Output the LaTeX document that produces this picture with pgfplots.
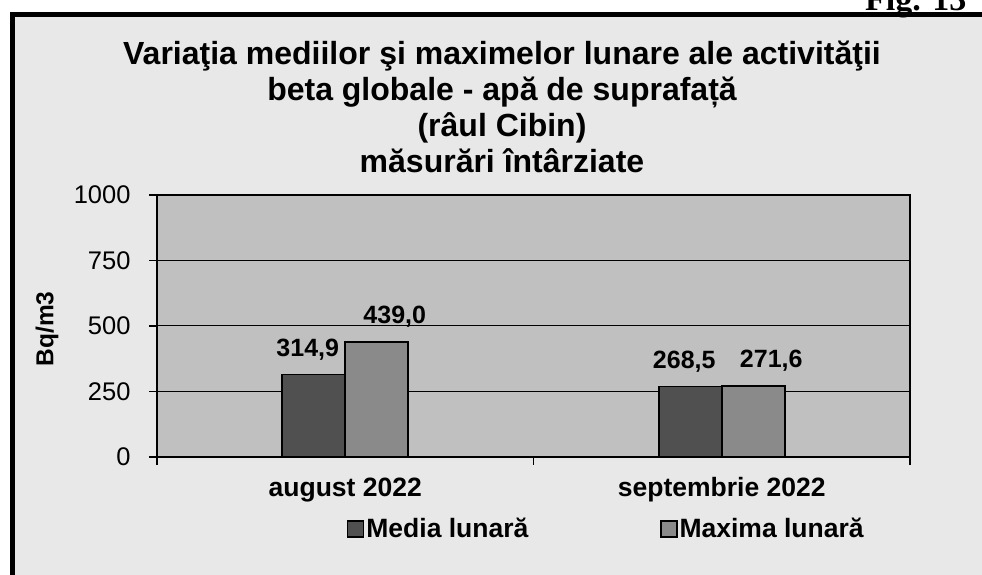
\documentclass[border=0pt]{standalone}
\usepackage{pgfplots}
\pgfplotsset{compat=1.18}
\usepackage{fontspec}
\setmainfont{Liberation Sans}
\newfontfamily\seriffont{Liberation Serif}
\definecolor{bggray}{RGB}{232,232,232}
\definecolor{plotgray}{RGB}{192,192,192}
\definecolor{darkbar}{RGB}{80,80,80}
\definecolor{lightbar}{RGB}{138,138,138}
\begin{document}
\begin{tikzpicture}[x=1bp,y=1bp]
\fill[white] (0,0) rectangle (982,575);
\fill[bggray] (12,0) rectangle (982,560);
\draw[line width=4.5bp] (12.5,0) -- (12.5,560.5) -- (982,560.5);
\node[anchor=base west, font=\seriffont\bfseries\fontsize{34bp}{40bp}\selectfont, inner sep=0pt] at (865,564) {Fig. 13};
\begin{scope}[every node/.style={anchor=base, inner sep=0pt, font=\bfseries\fontsize{32bp}{38bp}\selectfont}]
\node at (502,510) {Variaţia mediilor şi maximelor lunare ale activităţii};
\node at (502,474) {beta globale - apă de suprafață};
\node at (502,438) {(râul Cibin)};
\node at (502,402) {măsurări întârziate};
\end{scope}
\begin{axis}[
  at={(157bp,118bp)}, anchor=south west,
  width=753bp, height=262bp, scale only axis,
  xmin=-0.5, xmax=1.5, ymin=0, ymax=1000,
  axis background/.style={fill=plotgray},
  axis line style={black, line width=1.2bp},
  ybar=0pt, bar width=63bp,
  ytick={0,250,500,750,1000},
  ymajorgrids, grid style={black, line width=1bp},
  tick align=outside, major tick length=8bp,
  xtick pos=bottom, ytick pos=left,
  tick style={black, line width=1.2bp},
  /pgf/number format/assume math mode=true,
  /pgf/number format/1000 sep={},
  yticklabel style={font=\fontsize{25.5bp}{30bp}\selectfont, xshift=-15bp},
  xtick={-0.5,0.5,1.5}, xticklabels={},
  extra x ticks={0,1},
  extra x tick labels={august 2022, septembrie 2022},
  extra x tick style={major tick length=0pt, grid=none,
     xticklabel style={font=\bfseries\fontsize{26.5bp}{30bp}\selectfont, anchor=base, yshift=-40bp}},
  ylabel={Bq/m3},
  ylabel style={font=\bfseries\fontsize{24.5bp}{30bp}\selectfont, at={(axis description cs:-0.146,0.489)}, anchor=center},
  legend columns=2,
  legend style={at={(axis description cs:0.2523,-0.2748)}, anchor=west, draw=none, fill=none, inner sep=0pt,
     font=\bfseries\fontsize{26.5bp}{30bp}\selectfont,
     /tikz/every even column/.append style={column sep=130bp},
     nodes={inner sep=2bp}},
  legend image code/.code={\draw[#1, draw=black, line width=1.2bp] (0bp,-8bp) rectangle (16bp,8bp);},
  nodes near coords={\pgfmathprintnumber[fixed,fixed zerofill,precision=1,use comma,assume math mode=true]{\pgfplotspointmeta}},
]
\addplot[fill=darkbar, draw=black, line width=1.6bp,
  nodes near coords style={font=\bfseries\fontsize{25bp}{30bp}\selectfont, xshift=-6bp, yshift=10bp}]
  coordinates {(0,314.9) (1,268.5)};
\addlegendentry{Media lunară}
\addplot[fill=lightbar, draw=black, line width=1.6bp,
  nodes near coords style={font=\bfseries\fontsize{25bp}{30bp}\selectfont, xshift=18bp, yshift=10bp}]
  coordinates {(0,439.0) (1,271.6)};
\addlegendentry{Maxima lunară}
\end{axis}
\pgfresetboundingbox
\useasboundingbox (0,0) rectangle (982,575);
\end{tikzpicture}
\end{document}
